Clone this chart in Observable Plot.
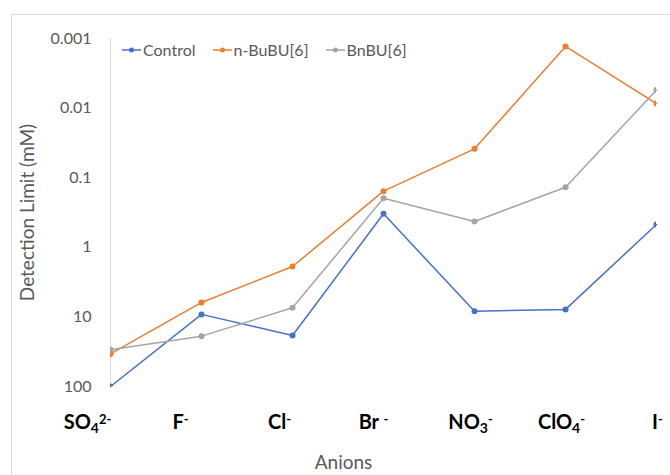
<!DOCTYPE html>
<html><head><meta charset="utf-8">
<script src="https://cdn.jsdelivr.net/npm/d3@7"></script>
<script src="https://cdn.jsdelivr.net/npm/@observablehq/plot@0.6"></script>
<style>
body{margin:0;background:#fff;}
#wrap{position:relative;width:670px;height:475px;overflow:hidden;background:#fff;font-family:Lato,sans-serif;}
#border{position:absolute;left:11px;top:14px;width:700px;height:500px;border:1px solid #d9d9d9;}
#chart{position:absolute;left:0;top:0;}
#legend{position:absolute;left:122px;top:40px;display:flex;align-items:center;font-size:16px;color:#595959;line-height:20px;}
#legend .item{display:flex;align-items:center;margin-right:17px;}
#legend svg{margin-right:2px;}
</style></head>
<body>
<div id="wrap"><div id="border"></div><div id="chart"></div><div id="legend"></div></div>
<script>
// ---- data ----
const anions = ["SO4", "F", "Cl", "Br", "NO3", "ClO4", "I"];
const labelMain = ["SO", "F", "Cl", "Br ", "NO", "ClO", "I"];
const labelSub = ["4", "", "", "", "3", "4", ""];
const labelSup = ["2-", "-", "-", "-", "-", "-", "-"];
const series = ["Control", "n-BuBU[6]", "BnBU[6]"];
const control = [100, 9.2, 18.5, 0.33, 8.3, 7.8, 0.47];
const nBuBU = [34, 6.2, 1.89, 0.156, 0.0385, 0.0013, 0.0086];
const bnBU = [29.7, 18.9, 7.4, 0.197, 0.426, 0.137, 0.0055];
const yTicks = [0.001, 0.01, 0.1, 1, 10, 100];
const colors = ["#4472C4", "#ED7D31", "#A5A5A5"];

const valuesBySeries = [control, nBuBU, bnBU];
const rows = [];
series.forEach((s, si) => anions.forEach((a, ai) => rows.push({series: s, anion: a, value: valuesBySeries[si][ai]})));

const labelShift = [-23, -21, -13, -10, -4, -4, 1];

const chart = Plot.plot({
  width: 670, height: 475,
  marginTop: 38, marginBottom: 89, marginLeft: 110, marginRight: 14,
  style: {fontFamily: "Lato, sans-serif", fontSize: "16px", color: "#595959", background: "transparent"},
  x: {type: "point", domain: anions, padding: 0, axis: null},
  y: {type: "log", domain: [0.001, 100], reverse: true, axis: null},
  color: {domain: series, range: colors},
  marks: [
    Plot.ruleX([anions[0]], {x: d => d, y1: 0.001, y2: 100, stroke: "#d9d9d9", strokeWidth: 1}),
    Plot.axisY({ticks: yTicks, tickFormat: d => String(d), tickSize: 0, tickPadding: 19, fontSize: 16, label: null}),
    Plot.line(rows, {x: "anion", y: "value", z: "series", stroke: "series", strokeWidth: 1.5}),
    Plot.dot(rows, {x: "anion", y: "value", fill: "series", r: 3, clip: true}),
    Plot.text(anions, {x: d => d, text: d => d, frameAnchor: "bottom", lineAnchor: "bottom", dy: 42, fontSize: 20, fontWeight: "bold", fill: "#000", className: "xlab"}),
    Plot.text(["Anions"], {frameAnchor: "bottom", lineAnchor: "bottom", dy: 82, dx: -40, fontSize: 19}),
    Plot.text(["Detection Limit (mM)"], {frameAnchor: "left", textAnchor: "middle", rotate: -90, dx: -83, fontSize: 19})
  ]
});
document.getElementById("chart").appendChild(chart);

d3.select(chart).selectAll("g.xlab text").each(function(_, i) {
  const t = d3.select(this);
  t.attr("x", +t.attr("x") + labelShift[i]);
  t.text(null);
  t.append("tspan").text(labelMain[i]);
  if (labelSub[i]) t.append("tspan").attr("font-size", 14).attr("dy", 4).text(labelSub[i]);
  if (labelSup[i]) t.append("tspan").attr("font-size", 13).attr("dy", labelSub[i] ? -9 : -5).text(labelSup[i]);
});

const legend = d3.select("#legend");
series.forEach((s, i) => {
  const item = legend.append("div").attr("class", "item");
  const sw = item.append("svg").attr("width", 19).attr("height", 10);
  sw.append("line").attr("x1", 0).attr("x2", 19).attr("y1", 5).attr("y2", 5).attr("stroke", colors[i]).attr("stroke-width", 1.5);
  sw.append("circle").attr("cx", 9.5).attr("cy", 5).attr("r", 2.5).attr("fill", colors[i]);
  item.append("span").text(s);
});
</script>
</body></html>
